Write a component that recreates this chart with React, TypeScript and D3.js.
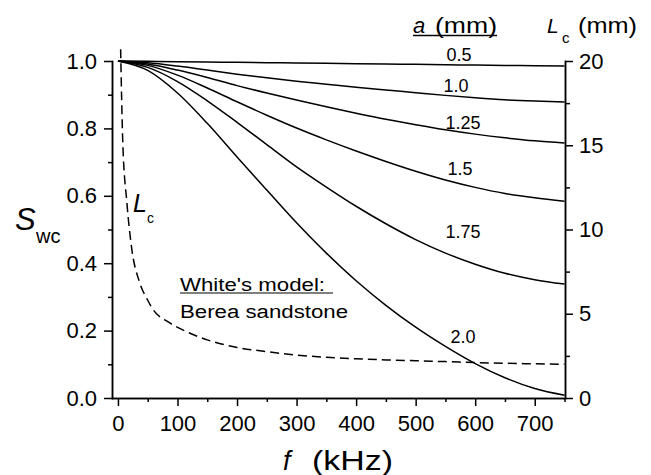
import React, { useEffect, useRef } from "react";
import * as d3 from "d3";

// frequency grid (kHz) for the S_wc curves
const freq = [0, 50, 100, 150, 200, 250, 300, 350, 400, 450, 500, 550, 600, 650, 700, 750];

// S_wc for each patch radius a (mm)
const swc05 = [1.0, 0.999, 0.998, 0.997, 0.996, 0.995, 0.994, 0.993, 0.992, 0.991, 0.99, 0.989, 0.988, 0.987, 0.986, 0.985];
const swc10 = [1.0, 0.995, 0.985, 0.973, 0.961, 0.95, 0.94, 0.931, 0.922, 0.914, 0.906, 0.898, 0.891, 0.885, 0.881, 0.878];
const swc125 = [1.0, 0.991, 0.973, 0.951, 0.927, 0.905, 0.884, 0.864, 0.845, 0.827, 0.811, 0.796, 0.783, 0.772, 0.763, 0.757];
const swc15 = [1.0, 0.987, 0.958, 0.92, 0.879, 0.839, 0.801, 0.766, 0.733, 0.702, 0.673, 0.647, 0.625, 0.607, 0.594, 0.584];
const swc175 = [1.0, 0.981, 0.939, 0.882, 0.818, 0.752, 0.686, 0.626, 0.569, 0.517, 0.47, 0.43, 0.397, 0.37, 0.351, 0.338];
const swc20 = [1.0, 0.972, 0.905, 0.815, 0.715, 0.617, 0.52, 0.43, 0.348, 0.275, 0.21, 0.153, 0.102, 0.06, 0.028, 0.008];

const series = [swc05, swc10, swc125, swc15, swc175, swc20];
const seriesLabels = ["0.5", "1.0", "1.25", "1.5", "1.75", "2.0"];

// critical length L_c (mm), dashed curve
const lcFreq = [4.5, 8, 15, 23, 36, 50, 60, 85, 115, 150, 200, 250, 300, 350, 400, 450, 500, 550, 600, 650, 700, 750];
const lcValues = [20.7, 15.3, 11.6, 8.9, 6.9, 5.8, 5.2, 4.5, 3.94, 3.45, 3.0, 2.75, 2.55, 2.42, 2.33, 2.26, 2.21, 2.16, 2.1, 2.06, 2.03, 2.0];

const xMajor = [0, 100, 200, 300, 400, 500, 600, 700];
const xMinor = [50, 150, 250, 350, 450, 550, 650, 750];
const yMajor = [0, 0.2, 0.4, 0.6, 0.8, 1.0];
const yMinor = [0.1, 0.3, 0.5, 0.7, 0.9];
const rMajor = [0, 5, 10, 15, 20];
const rMinor = [2.5, 7.5, 12.5, 17.5];

const FONT = "'Liberation Sans', Arial, Helvetica, sans-serif";

export default function App() {
  const ref = useRef<SVGGElement>(null);

  useEffect(() => {
    const svg = d3.select(ref.current);
    svg.selectAll("*").remove();

    const x = d3.scaleLinear().domain([-10, 750]).range([112, 564.5]);
    const y = d3.scaleLinear().domain([0, 1]).range([398, 61]);
    const yR = d3.scaleLinear().domain([0, 20]).range([398, 61]);

    const styleAxis = (g: any) => {
      g.select(".domain").attr("stroke", "#000").attr("stroke-width", 1.5);
      g.selectAll(".tick line").attr("stroke", "#000").attr("stroke-width", 1.5);
      g.selectAll(".tick text").attr("fill", "#000").style("font-family", FONT).style("font-size", "22px");
    };

    // bottom axis
    svg.append("g")
      .attr("transform", "translate(0,398)")
      .call(d3.axisBottom(x).tickValues(xMinor).tickSize(4).tickSizeOuter(0).tickFormat(() => ""))
      .call(styleAxis);
    svg.append("g")
      .attr("transform", "translate(0,398)")
      .call(d3.axisBottom(x).tickValues(xMajor).tickSize(8).tickSizeOuter(0).tickPadding(9).tickFormat(d3.format("d")))
      .call(styleAxis);

    // left axis
    svg.append("g")
      .attr("transform", "translate(112,0)")
      .call(d3.axisLeft(y).tickValues(yMinor).tickSize(4).tickSizeOuter(0).tickFormat(() => ""))
      .call(styleAxis);
    svg.append("g")
      .attr("transform", "translate(112,0)")
      .call(d3.axisLeft(y).tickValues(yMajor).tickSize(8).tickSizeOuter(0).tickPadding(7).tickFormat(d3.format(".1f")))
      .call(styleAxis);

    // right axis
    svg.append("g")
      .attr("transform", "translate(565,0)")
      .call(d3.axisRight(yR).tickValues(rMinor).tickSize(5).tickSizeOuter(0).tickFormat(() => ""))
      .call(styleAxis);
    svg.append("g")
      .attr("transform", "translate(565,0)")
      .call(d3.axisRight(yR).tickValues(rMajor).tickSize(8).tickSizeOuter(0).tickPadding(6).tickFormat(d3.format("d")))
      .call(styleAxis);

    svg.selectAll(".domain").attr("stroke-linecap", "square");

    // S_wc curves
    const line = d3.line<number>()
      .x((_, i) => x(freq[i]))
      .y((d) => y(d))
      .curve(d3.curveMonotoneX);

    svg.append("g").selectAll("path")
      .data(series)
      .enter().append("path")
      .attr("d", (d) => line(d))
      .attr("fill", "none")
      .attr("stroke", "#000")
      .attr("stroke-width", 1.5);

    // L_c dashed curve
    const lcLine = d3.line<number>()
      .x((_, i) => x(lcFreq[i]))
      .y((d) => yR(d))
      .curve(d3.curveMonotoneX);

    svg.append("path")
      .attr("d", lcLine(lcValues))
      .attr("fill", "none")
      .attr("stroke", "#000")
      .attr("stroke-width", 1.5)
      .attr("stroke-dasharray", "9,5");

    // curve labels
    const labelPos = [[459, 60.5], [456, 92], [463, 129], [460, 175], [463, 238], [463, 343]];
    svg.append("g").selectAll("text")
      .data(seriesLabels)
      .enter().append("text")
      .attr("x", (_, i) => labelPos[i][0])
      .attr("y", (_, i) => labelPos[i][1])
      .attr("text-anchor", "middle")
      .style("font-family", FONT)
      .style("font-size", "18px")
      .text((d) => d);
  }, []);

  return (
    <svg width={651} height={475}
      style={{ position: "absolute", left: 0, top: 0, background: "#fff" }}>
      <g ref={ref} />
      <g fontFamily={FONT} fill="#000">
        <text x={15} y={230} fontSize={31} fontStyle="italic">S</text>
        <text x={36} y={243} fontSize={20}>wc</text>

        <text x={283} y={470} fontSize={27} fontStyle="italic">f</text>
        <text x={312} y={470} fontSize={27} textLength={81} lengthAdjust="spacingAndGlyphs">(kHz)</text>

        <text x={413} y={33} fontSize={22} fontStyle="italic">a</text>
        <text x={435} y={33} fontSize={22} textLength={62} lengthAdjust="spacingAndGlyphs">(mm)</text>
        <line x1={413} x2={497} y1={35.5} y2={35.5} stroke="#000" strokeWidth={1.3} />

        <text x={547} y={33} fontSize={21} fontStyle="italic">L</text>
        <text x={562} y={43} fontSize={15}>c</text>
        <text x={578} y={33} fontSize={22} textLength={59} lengthAdjust="spacingAndGlyphs">(mm)</text>

        <text x={133} y={211.5} fontSize={25} fontStyle="italic">L</text>
        <text x={147} y={223} fontSize={14}>c</text>

        <text x={180} y={290.5} fontSize={18} textLength={145} lengthAdjust="spacingAndGlyphs">White's model:</text>
        <line x1={180} x2={333} y1={293} y2={293} stroke="#555" strokeWidth={1.5} />
        <text x={180} y={318} fontSize={18} textLength={168} lengthAdjust="spacingAndGlyphs">Berea sandstone</text>
      </g>
    </svg>
  );
}
